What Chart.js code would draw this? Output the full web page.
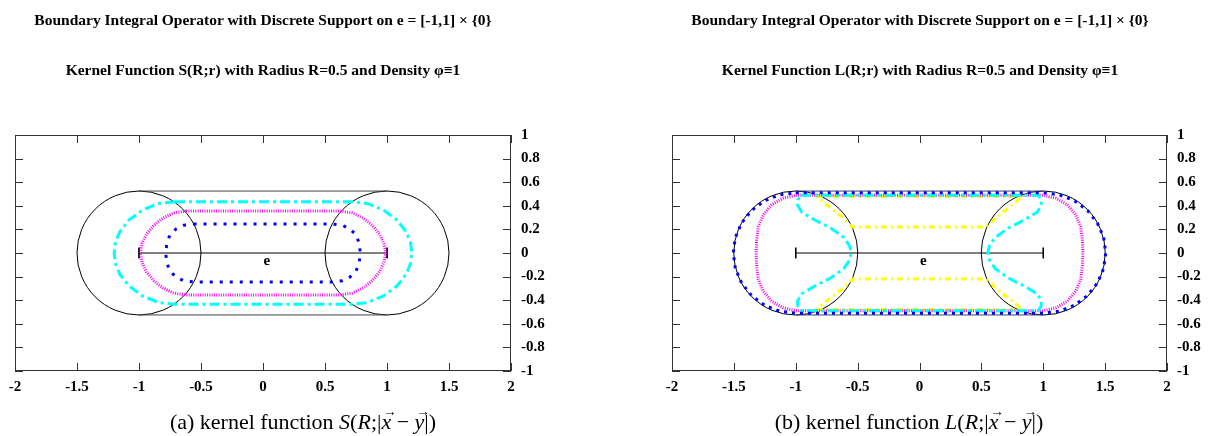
<!DOCTYPE html>
<html><head><meta charset="utf-8">
<script src="https://cdn.jsdelivr.net/npm/chart.js@4.4.1/dist/chart.umd.min.js"></script>
<style>
html,body{margin:0;padding:0;background:#fff;overflow:hidden;}
#wrap{position:relative;width:1213px;height:436px;}
canvas{position:absolute;top:0;}
.ttl{position:absolute;width:600px;text-align:center;font-family:"Liberation Serif","Times New Roman",serif;font-weight:bold;font-size:15.5px;color:#000;white-space:nowrap;line-height:1;}
.cap{position:absolute;width:606px;text-align:center;font-family:"Liberation Serif","Times New Roman",serif;font-size:22px;color:#000;white-space:nowrap;line-height:1;}
.vec{position:relative;display:inline-block;font-style:italic;}
.vec::after{content:"\2192";position:absolute;left:0.12em;top:-0.42em;font-size:0.62em;font-style:normal;}
</style></head>
<body><div id="wrap">
<canvas id="cS" width="606" height="436" style="left:0"></canvas>
<canvas id="cL" width="556" height="436" style="left:657px"></canvas>
<div class="ttl" style="left:-37px;top:12px">Boundary Integral Operator with Discrete Support on e = [-1,1] × {0}</div>
<div class="ttl" style="left:-37px;top:62px">Kernel Function S(R;r) with Radius R=0.5 and Density φ≡1</div>
<div class="ttl" style="left:620px;top:12px">Boundary Integral Operator with Discrete Support on e = [-1,1] × {0}</div>
<div class="ttl" style="left:620px;top:62px">Kernel Function L(R;r) with Radius R=0.5 and Density φ≡1</div>
<div class="cap" style="left:0px;top:411px">(a) kernel function <i>S</i>(<i>R</i>;|<span class="vec">x</span> − <span class="vec">y</span>|)</div>
<div class="cap" style="left:606px;top:411px">(b) kernel function <i>L</i>(<i>R</i>;|<span class="vec">x</span> − <span class="vec">y</span>|)</div>
</div>
<script>
// ---- axes ----
const xTickValues = [-2,-1.5,-1,-0.5,0,0.5,1,1.5,2];
const xTickLabels = ['-2','-1.5','-1','-0.5','0','0.5','1','1.5','2'];
const yTickValues = [1,0.8,0.6,0.4,0.2,0,-0.2,-0.4,-0.6,-0.8,-1];
const yTickLabels = ['1','0.8','0.6','0.4','0.2','0','-0.2','-0.4','-0.6','-0.8','-1'];

// ---- common geometry (data units) ----
const circleCenters = [[-1,0],[1,0]];
const stadiumTop = [[-1,0.525],[1,0.525]];
const stadiumBottom = [[-1,-0.525],[1,-0.525]];
const segmentE = [[-1,0],[1,0]];
const segmentEndLeft = [[-1,0.045],[-1,-0.045]];
const segmentEndRight = [[1,0.045],[1,-0.045]];
const labelE = [0.03,-0.07];

// ---- kernel S level curves ----
const sBlue = [[-0.56,0.245],[0.56,0.245],[0.64,0.235],[0.70,0.205],[0.75,0.155],[0.775,0.085],[0.785,0],[0.775,-0.085],[0.75,-0.155],[0.70,-0.205],[0.64,-0.235],[0.56,-0.245],[-0.56,-0.245],[-0.64,-0.235],[-0.70,-0.205],[-0.75,-0.155],[-0.775,-0.085],[-0.785,0],[-0.775,0.085],[-0.75,0.155],[-0.70,0.205],[-0.64,0.235],[-0.56,0.245]];
const sMagenta = [[-0.62,0.355],[0.62,0.355],[0.72,0.34],[0.81,0.295],[0.88,0.235],[0.94,0.16],[0.975,0.08],[0.99,0],[0.975,-0.08],[0.94,-0.16],[0.88,-0.235],[0.81,-0.295],[0.72,-0.34],[0.62,-0.355],[-0.62,-0.355],[-0.72,-0.34],[-0.81,-0.295],[-0.88,-0.235],[-0.94,-0.16],[-0.975,-0.08],[-0.99,0],[-0.975,0.08],[-0.94,0.16],[-0.88,0.235],[-0.81,0.295],[-0.72,0.34],[-0.62,0.355]];
const sCyan = [[-0.71,0.435],[0.71,0.435],[0.84,0.42],[0.97,0.365],[1.08,0.28],[1.155,0.18],[1.19,0.09],[1.2,0],[1.19,-0.09],[1.155,-0.18],[1.08,-0.28],[0.97,-0.365],[0.84,-0.42],[0.71,-0.435],[-0.71,-0.435],[-0.84,-0.42],[-0.97,-0.365],[-1.08,-0.28],[-1.155,-0.18],[-1.19,-0.09],[-1.2,0],[-1.19,0.09],[-1.155,0.18],[-1.08,0.28],[-0.97,0.365],[-0.84,0.42],[-0.71,0.435]];

// ---- kernel L level curves ----
const lBlue = [[-1,0.51],[1,0.51],[1.131,0.493],[1.2525,0.442],[1.357,0.361],[1.437,0.255],[1.488,0.132],[1.505,0],[1.488,-0.132],[1.437,-0.255],[1.357,-0.361],[1.2525,-0.442],[1.131,-0.493],[1,-0.51],[-1,-0.51],[-1.131,-0.493],[-1.2525,-0.442],[-1.357,-0.361],[-1.437,-0.255],[-1.488,-0.132],[-1.505,0],[-1.488,0.132],[-1.437,0.255],[-1.357,0.361],[-1.2525,0.442],[-1.131,0.493],[-1,0.51]];
const lMagenta = [[-1,0.49],[1,0.49],[1.1,0.465],[1.195,0.408],[1.262,0.324],[1.302,0.225],[1.316,0.112],[1.32,0],[1.316,-0.112],[1.302,-0.225],[1.262,-0.324],[1.195,-0.408],[1.1,-0.465],[1,-0.49],[-1,-0.49],[-1.1,-0.465],[-1.195,-0.408],[-1.262,-0.324],[-1.302,-0.225],[-1.316,-0.112],[-1.32,0],[-1.316,0.112],[-1.302,0.225],[-1.262,0.324],[-1.195,0.408],[-1.1,0.465],[-1,0.49]];
const lCyan = [[-0.96,0.49],[0.96,0.49],[0.983,0.45],[0.985,0.405],[0.95,0.345],[0.85,0.282],[0.715,0.21],[0.61,0.13],[0.565,0.06],[0.552,0],[0.565,-0.06],[0.61,-0.13],[0.715,-0.21],[0.85,-0.282],[0.95,-0.345],[0.985,-0.405],[0.983,-0.45],[0.96,-0.49],[-0.96,-0.49],[-0.983,-0.45],[-0.985,-0.405],[-0.95,-0.345],[-0.85,-0.282],[-0.715,-0.21],[-0.61,-0.13],[-0.565,-0.06],[-0.552,0],[-0.565,0.06],[-0.61,0.13],[-0.715,0.21],[-0.85,0.282],[-0.95,0.345],[-0.985,0.405],[-0.983,0.45],[-0.96,0.49]];
const lYellowTop = [[-0.83,0.478],[0.83,0.478],[0.81,0.46],[0.73,0.39],[0.63,0.31],[0.54,0.22],[-0.54,0.22],[-0.63,0.31],[-0.73,0.39],[-0.81,0.46],[-0.83,0.478]];
const lYellowBottom = [[-0.83,-0.478],[0.83,-0.478],[0.81,-0.46],[0.73,-0.39],[0.63,-0.31],[0.54,-0.22],[-0.54,-0.22],[-0.63,-0.31],[-0.73,-0.39],[-0.81,-0.46],[-0.83,-0.478]];

// ---- helpers ----
const pts = a => a.map(p => ({x:p[0], y:p[1]}));
const FONT = '"Liberation Serif","Times New Roman",serif';

function lineDs(arr, color, width, dash, order){
  return {type:'scatter', data:pts(arr), showLine:true, pointRadius:0, pointHoverRadius:0,
    borderColor:color, borderWidth:width, borderDash:dash||[], fill:false, tension:0, order:order, clip:false};
}
function baseDatasets(){
  return [
    {type:'scatter', data:pts(circleCenters), showLine:false, pointRadius:62, pointHoverRadius:62,
     pointBackgroundColor:'rgba(0,0,0,0)', pointBorderColor:'#000', pointBorderWidth:1, order:20, clip:false},
    lineDs(stadiumTop,'#444',1,[],19),
    lineDs(stadiumBottom,'#444',1,[],19),
    lineDs(segmentE,'#000',1,[],18),
    lineDs(segmentEndLeft,'#000',1,[],18),
    lineDs(segmentEndRight,'#000',1,[],18)
  ];
}

const framePlugin = {
  id:'frame',
  afterDraw(chart){
    const {ctx, chartArea:a, scales} = chart;
    ctx.save();
    ctx.strokeStyle = '#333'; ctx.lineWidth = 1;
    ctx.strokeRect(a.left+0.5, a.top+0.5, a.right-a.left-1, a.bottom-a.top-1);
    ctx.beginPath();
    const tl = 8;
    xTickValues.forEach(v => {
      const px = Math.round(scales.x.getPixelForValue(v))+0.5;
      ctx.moveTo(px, a.bottom); ctx.lineTo(px, a.bottom-tl);
      ctx.moveTo(px, a.top); ctx.lineTo(px, a.top+tl);
    });
    yTickValues.forEach(v => {
      const py = Math.round(scales.y.getPixelForValue(v))+0.5;
      ctx.moveTo(a.left, py); ctx.lineTo(a.left+tl, py);
      ctx.moveTo(a.right, py); ctx.lineTo(a.right-tl, py);
    });
    ctx.stroke();
    ctx.fillStyle = '#000';
    ctx.font = 'bold 15px ' + FONT;
    ctx.textAlign = 'center'; ctx.textBaseline = 'middle';
    ctx.fillText('e', scales.x.getPixelForValue(labelE[0]), scales.y.getPixelForValue(labelE[1]));
    ctx.restore();
  }
};

function makeChart(id, curves, yAxisWidth){
  return new Chart(document.getElementById(id), {
    type:'scatter',
    data:{datasets: baseDatasets().concat(curves)},
    options:{
      responsive:false, animation:false, events:[],
      layout:{autoPadding:false, padding:{top:135, left:15, right:0, bottom:0}},
      plugins:{legend:{display:false}, tooltip:{enabled:false}, title:{display:false}},
      scales:{
        x:{type:'linear', position:'bottom', min:-2, max:2,
           grid:{display:false, drawTicks:false}, border:{display:false},
           afterBuildTicks: s => { s.ticks = xTickValues.map(v => ({value:v})); },
           afterFit: s => { s.height = 65; },
           ticks:{padding:7, color:'#000', font:{family:FONT, weight:'bold', size:15},
                  callback:(v,i) => xTickLabels[i]}},
        y:{type:'linear', position:'right', min:-1, max:1,
           grid:{display:false, drawTicks:false}, border:{display:false},
           afterBuildTicks: s => { s.ticks = yTickValues.map(v => ({value:v})); },
           afterFit: s => { s.width = yAxisWidth; },
           ticks:{padding:10, color:'#000', font:{family:FONT, weight:'bold', size:15},
                  callback:(v,i) => yTickLabels[i]}}
      }
    },
    plugins:[framePlugin]
  });
}

makeChart('cS', [
  lineDs(sBlue,'#0000ff',3,[3,7],3),
  lineDs(sMagenta,'#ff00ff',3,[1,1.3],2),
  lineDs(sCyan,'#00ffff',3,[10,4,3,4],1)
], 95);

makeChart('cL', [
  lineDs(lBlue,'#0000ff',3,[3,5],1),
  lineDs(lMagenta,'#ff00ff',3,[1,1.3],3),
  lineDs(lCyan,'#00ffff',3,[10,4,3,4],2),
  lineDs(lYellowTop,'#ffff00',3,[6,4,2,4],4),
  lineDs(lYellowBottom,'#ffff00',3,[6,4,2,4],4)
], 46);
</script>
</body></html>
